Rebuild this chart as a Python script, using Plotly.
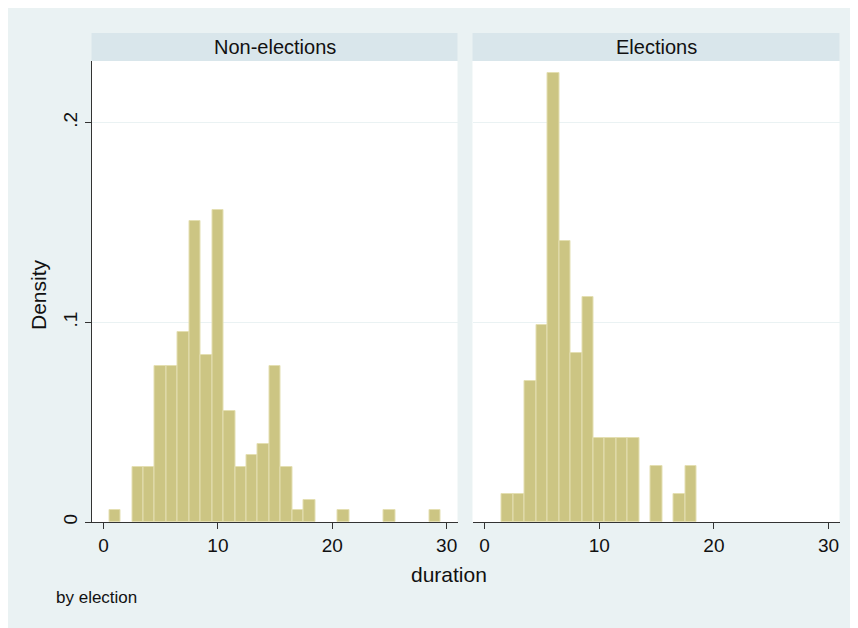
import plotly.graph_objects as go

# histogram bins (centre of each 1-unit bin) and densities
non_elec_bins = [1, 3, 4, 5, 6, 7, 8, 9, 10, 11, 12, 13, 14, 15, 16, 17, 18, 21, 25, 29]
non_elec_density = [0.0058, 0.0278, 0.0278, 0.0783, 0.0783, 0.095, 0.151, 0.0838, 0.1563, 0.0558,
                    0.0278, 0.0337, 0.0392, 0.0783, 0.0278, 0.0058, 0.0112, 0.0058, 0.0058, 0.0058]

elec_bins = [2, 3, 4, 5, 6, 7, 8, 9, 10, 11, 12, 13, 15, 17, 18]
elec_density = [0.0142, 0.0142, 0.0705, 0.0987, 0.225, 0.1405, 0.0845, 0.1127, 0.0423, 0.0423,
                0.0423, 0.0423, 0.0283, 0.0142, 0.0283]

panel_titles = ["Non-elections", "Elections"]
x_ticks = [0, 10, 20, 30]
y_ticks = [0, 0.1, 0.2]
y_tick_labels = ["0", ".1", ".2"]

W, H = 858, 628
OFF = 8  # the page body margin shifts the figure
FONT = "Liberation Sans, Arial, sans-serif"
BG = "#EAF2F3"
STRIP = "#D9E6EB"
BAR_FILL = "#CCC583"
BAR_LINE = "#E4DFB2"


def px_x(p):
    return (p - OFF) / W


def px_y(p):
    return 1 - (p - OFF) / H


dom1 = [px_x(91.5), px_x(457.5)]
dom2 = [px_x(472.5), px_x(839.5)]
ydom = [px_y(522), px_y(61)]

fig = go.Figure()
fig.add_trace(go.Bar(x=non_elec_bins, y=non_elec_density, width=1,
                     marker=dict(color=BAR_FILL, line=dict(color=BAR_LINE, width=1)),
                     xaxis="x", yaxis="y", showlegend=False))
fig.add_trace(go.Bar(x=elec_bins, y=elec_density, width=1,
                     marker=dict(color=BAR_FILL, line=dict(color=BAR_LINE, width=1)),
                     xaxis="x2", yaxis="y2", showlegend=False))

xaxis_common = dict(range=[-1.05, 30.95], tickvals=x_ticks, ticktext=[str(v) for v in x_ticks],
                    showgrid=False, zeroline=False, showline=True, linecolor="#333333", linewidth=1,
                    ticks="outside", ticklen=6, tickcolor="#333333",
                    tickfont=dict(family=FONT, size=19, color="#111111"))

fig.update_layout(
    width=W, height=H,
    margin=dict(l=0, r=0, t=0, b=0, autoexpand=False),
    paper_bgcolor=BG, plot_bgcolor="white",
    bargap=0,
    xaxis=dict(domain=dom1, anchor="y", **xaxis_common),
    xaxis2=dict(domain=dom2, anchor="y2", **xaxis_common),
    yaxis=dict(domain=ydom, range=[0, 0.2309], anchor="x", tickvals=y_ticks, ticktext=y_tick_labels,
               showgrid=True, gridcolor=BG, gridwidth=1, zeroline=False,
               showline=True, linecolor="#333333", linewidth=1,
               ticks="outside", ticklen=6, tickcolor="#333333", tickangle=-90,
               tickfont=dict(family=FONT, size=19, color="#111111")),
    yaxis2=dict(domain=ydom, range=[0, 0.2309], anchor="x2", tickvals=y_ticks,
                showticklabels=False, showgrid=True, gridcolor=BG, gridwidth=1,
                zeroline=False, showline=False, ticks=""),
)

# panel header strips
shapes = []
annotations = []
for dom, title in zip([dom1, dom2], panel_titles):
    shapes.append(dict(type="rect", xref="paper", yref="paper", x0=dom[0], x1=dom[1],
                       y0=px_y(61), y1=px_y(33), fillcolor=STRIP, line=dict(width=0), layer="below"))
    annotations.append(dict(xref="paper", yref="paper", x=(dom[0] + dom[1]) / 2, y=px_y(47),
                            text=title, showarrow=False, xanchor="center", yanchor="middle",
                            font=dict(family=FONT, size=20, color="#111111")))

annotations.append(dict(xref="paper", yref="paper", x=px_x(38), y=px_y(295), text="Density",
                        textangle=-90, showarrow=False, xanchor="center", yanchor="middle",
                        font=dict(family=FONT, size=21, color="#111111")))
annotations.append(dict(xref="paper", yref="paper", x=px_x(449), y=px_y(574), text="duration",
                        showarrow=False, xanchor="center", yanchor="middle",
                        font=dict(family=FONT, size=21, color="#111111")))
annotations.append(dict(xref="paper", yref="paper", x=px_x(54), y=px_y(597), text="by election",
                        showarrow=False, xanchor="left", yanchor="middle",
                        font=dict(family=FONT, size=17, color="#111111")))

fig.update_layout(shapes=shapes, annotations=annotations)

fig.write_html("out.html")
